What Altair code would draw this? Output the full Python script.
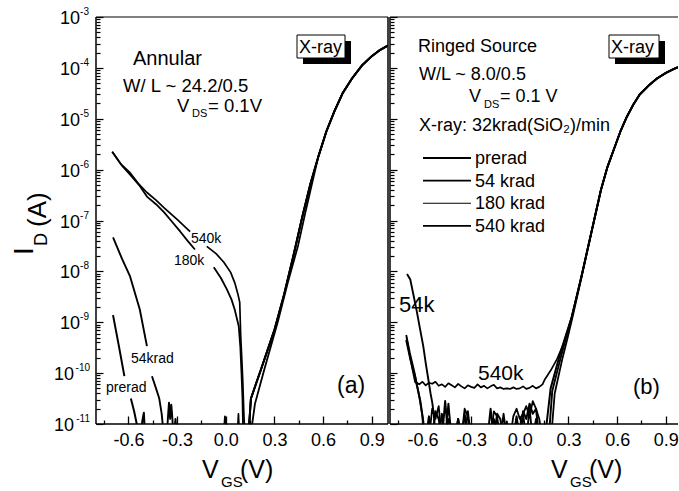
import altair as alt
import pandas as pd

FONT = "Liberation Sans"

# ----- series and styling -----
SERIES = ["prerad", "54 krad", "180 krad", "540 krad"]
LINE_W = [2.0, 1.7, 1.1, 1.8]

X_MAJOR = [-0.6, -0.3, 0.0, 0.3, 0.6, 0.9]
X_MINOR = [-0.75, -0.45, -0.15, 0.15, 0.45, 0.75]
Y_EXP = [-3, -4, -5, -6, -7, -8, -9, -10, -11]

# ----- panel (a): annular device, log10(I_D / A) vs V_GS -----
a_on_v = [0.138, 0.155, 0.22, 0.30, 0.36, 0.42, 0.47, 0.52, 0.57, 0.62, 0.67, 0.72, 0.78, 0.84, 0.90, 0.95, 1.00]
a_on_log = [-11.3, -10.5, -9.9, -9.15, -8.45, -7.65, -6.95, -6.3, -5.75, -5.25, -4.85, -4.5, -4.2, -3.95, -3.77, -3.65, -3.56]
a_on180_v = [0.15, 0.18, 0.24, 0.32, 0.38, 0.445, 0.49, 0.53, 0.57, 0.62, 0.67, 0.72, 0.78, 0.84, 0.90, 0.95, 1.00]
a_on180_log = [-11.3, -10.6, -9.9, -9.0, -8.25, -7.5, -6.85, -6.3, -5.75, -5.25, -4.85, -4.5, -4.2, -3.95, -3.77, -3.65, -3.56]

a_pre1_v = [-0.695, -0.66, -0.625]
a_pre1_log = [-8.86, -9.45, -10.06]
a_pre2_v = [-0.585, -0.565, -0.55, -0.535]
a_pre2_log = [-10.5, -10.75, -10.98, -11.4]
a_pre3_v = [-0.525, -0.515, -0.505, -0.495]
a_pre3_log = [-11.4, -10.95, -10.78, -11.4]

a_54_1_v = [-0.695, -0.64, -0.59, -0.53, -0.486]
a_54_1_log = [-7.33, -7.75, -8.1, -8.75, -9.47]
a_54_2_v = [-0.455, -0.43, -0.41, -0.395, -0.38]
a_54_2_log = [-10.06, -10.3, -10.5, -10.8, -11.3]
a_54_3_v = [-0.365, -0.355, -0.35, -0.343, -0.336, -0.33, -0.322, -0.31, -0.30, -0.29]
a_54_3_log = [-11.3, -10.8, -10.58, -10.9, -10.62, -10.85, -11.3, -10.9, -11.3, -11.3]

a_180_1_v = [-0.70, -0.64, -0.59, -0.53, -0.486, -0.43, -0.38, -0.33, -0.28, -0.235, -0.19]
a_180_1_log = [-5.65, -5.92, -6.1, -6.32, -6.53, -6.68, -6.84, -7.03, -7.22, -7.4, -7.57]
a_180_2_v = [-0.074, -0.03, 0.006, 0.035, 0.055, 0.08, 0.09, 0.097, 0.103, 0.108]
a_180_2_log = [-7.92, -8.13, -8.35, -8.55, -8.75, -9.08, -9.5, -10.0, -10.5, -11.3]
a_180_3_v = [-0.015, -0.005, 0.005]
a_180_3_log = [-11.3, -10.85, -11.3]

a_540_1_v = [-0.70, -0.65, -0.59, -0.54, -0.486, -0.43, -0.38, -0.30, -0.22]
a_540_1_log = [-5.65, -5.88, -6.06, -6.27, -6.45, -6.6, -6.75, -6.98, -7.22]
a_540_2_v = [-0.117, -0.06, -0.012, 0.03, 0.055, 0.075, 0.086, 0.092, 0.10, 0.105, 0.111, 0.118]
a_540_2_log = [-7.51, -7.65, -7.82, -8.02, -8.22, -8.45, -8.61, -9.27, -9.8, -10.18, -10.76, -11.3]
a_540_3_v = [0.07, 0.078, 0.085]
a_540_3_log = [-11.3, -10.8, -11.3]

# ----- panel (b): ringed-source device -----
b_on_v = [0.165, 0.19, 0.245, 0.27, 0.32, 0.38, 0.44, 0.50, 0.54, 0.58, 0.62, 0.66, 0.70, 0.74, 0.80, 0.845, 0.90, 0.95, 0.98]
b_on_log = [-11.0, -10.3, -9.66, -9.4, -8.9, -8.1, -7.25, -6.4, -5.95, -5.6, -5.25, -4.96, -4.72, -4.52, -4.33, -4.21, -4.1, -4.02, -3.98]
b_on54_v = [0.18, 0.20, 0.25, 0.29, 0.32, 0.38, 0.44, 0.50, 0.54, 0.58, 0.62, 0.66, 0.70, 0.74, 0.80, 0.845, 0.90, 0.95, 0.98]
b_on54_log = [-11.2, -10.35, -9.72, -9.25, -8.9, -8.1, -7.25, -6.4, -5.95, -5.6, -5.25, -4.96, -4.72, -4.52, -4.33, -4.21, -4.1, -4.02, -3.98]
b_on180_v = [0.195, 0.215, 0.26, 0.295, 0.325, 0.38, 0.44, 0.50, 0.54, 0.58, 0.62, 0.66, 0.70, 0.74, 0.80, 0.845, 0.90, 0.95, 0.98]
b_on180_log = [-11.2, -10.4, -9.75, -9.3, -8.9, -8.12, -7.25, -6.4, -5.95, -5.6, -5.25, -4.96, -4.72, -4.52, -4.33, -4.21, -4.1, -4.02, -3.98]

b_pre1_v = [-0.70, -0.675, -0.644, -0.613, -0.595, -0.585]
b_pre1_log = [-9.35, -9.72, -10.1, -10.55, -10.95, -11.3]
b_180_1_v = [-0.70, -0.678, -0.648, -0.62, -0.60, -0.588]
b_180_1_log = [-9.25, -9.6, -10.0, -10.45, -10.85, -11.3]
b_54_1_v = [-0.695, -0.675, -0.655, -0.634, -0.615, -0.595, -0.58, -0.564, -0.55, -0.54, -0.53, -0.52]
b_54_1_log = [-8.05, -8.16, -8.47, -8.8, -9.13, -9.47, -9.8, -10.12, -10.4, -10.57, -10.8, -11.3]

noise_v = [-0.58, -0.56, -0.54, -0.52, -0.50, -0.48, -0.46, -0.44, -0.42, -0.40, -0.38, -0.36,
           -0.34, -0.32, -0.30, -0.28, -0.26, -0.24, -0.22, -0.20, -0.18, -0.16, -0.14, -0.12,
           -0.10, -0.08, -0.06, -0.04, -0.02, 0.00, 0.02, 0.04, 0.06, 0.08, 0.10, 0.12, 0.14]
b_pre_noise_log = [-11.3, -10.85, -11.3, -10.75, -10.9, -11.3, -10.55, -11.3, -11.3, -11.3, -10.9, -11.3,
                   -10.8, -11.3, -11.3, -11.3, -11.3, -11.3, -11.3, -11.3, -10.7, -11.3, -10.8, -10.9,
                   -11.3, -11.3, -11.3, -11.3, -10.85, -11.3, -10.75, -10.9, -10.6, -10.8, -10.7, -11.3, -11.3]
b_180_noise_log = [-11.3, -11.3, -10.7, -10.9, -10.65, -11.3, -11.3, -10.9, -11.3, -11.3, -11.3, -11.3,
                   -10.7, -10.85, -11.3, -11.3, -11.3, -11.3, -11.3, -11.3, -11.3, -10.75, -10.85, -11.3,
                   -11.3, -10.95, -11.3, -10.85, -10.7, -10.9, -10.8, -10.65, -10.85, -10.55, -10.7, -10.9, -11.3]
b_54_noise_v = [-0.50, -0.48, -0.46, -0.44, -0.42, -0.40, -0.38, -0.36, -0.34, -0.32, -0.30,
                -0.28, -0.26, -0.24, -0.22, -0.20, -0.18, -0.16, -0.14, -0.12, -0.10, -0.08,
                -0.06, -0.04, -0.02, 0.00, 0.02, 0.04, 0.06, 0.08, 0.10, 0.12, 0.14]
b_54_noise_log = [-11.3, -10.8, -11.3, -10.6, -11.3, -11.3, -10.9, -11.3, -11.3, -10.75, -11.3,
                  -11.3, -11.3, -11.3, -11.3, -11.3, -11.3, -10.9, -11.3, -11.3, -10.8, -11.3,
                  -11.3, -11.3, -10.9, -11.3, -10.8, -11.3, -10.7, -11.3, -10.9, -11.3, -11.3]

b_540_v = [-0.698, -0.68, -0.66, -0.645,
           -0.64, -0.62, -0.60, -0.58, -0.56, -0.54, -0.52, -0.50, -0.48, -0.46, -0.44, -0.42,
           -0.40, -0.38, -0.36, -0.34, -0.32, -0.30, -0.28, -0.26, -0.24, -0.22, -0.20, -0.18,
           -0.16, -0.14, -0.12, -0.10, -0.08, -0.06, -0.04, -0.02, 0.00, 0.02, 0.04, 0.06,
           0.08, 0.10, 0.12, 0.14,
           0.155, 0.19, 0.23, 0.27, 0.32, 0.38, 0.44, 0.50, 0.54, 0.58, 0.62, 0.66, 0.70, 0.74,
           0.80, 0.845, 0.90, 0.95, 0.98]
b_540_log = [-9.3, -9.62, -9.95, -10.18,
             -10.18, -10.22, -10.17, -10.24, -10.19, -10.21, -10.17, -10.25, -10.22, -10.27, -10.20, -10.24,
             -10.28, -10.21, -10.26, -10.30, -10.24, -10.27, -10.29, -10.22, -10.28, -10.25, -10.30, -10.26,
             -10.23, -10.30, -10.28, -10.31, -10.30, -10.31, -10.28, -10.31, -10.30, -10.26, -10.31, -10.29,
             -10.25, -10.30, -10.27, -10.22,
             -10.12, -9.95, -9.72, -9.42, -8.9, -8.1, -7.25, -6.4, -5.95, -5.6, -5.25, -4.96, -4.72, -4.52,
             -4.33, -4.21, -4.1, -4.02, -3.98]

rows = []
_seg = [0]


def add(panel, series, v, logi):
    assert len(v) == len(logi)
    _seg[0] += 1
    key = f"{panel}{_seg[0]}"
    for i, (a, b) in enumerate(zip(v, logi)):
        rows.append(dict(panel=panel, series=series, key=key, idx=i, vgs=a, id=10.0 ** b))


add("a", "prerad", a_pre1_v, a_pre1_log)
add("a", "prerad", a_pre2_v, a_pre2_log)
add("a", "prerad", a_pre3_v, a_pre3_log)
add("a", "prerad", a_on_v, a_on_log)
add("a", "54 krad", a_54_1_v, a_54_1_log)
add("a", "54 krad", a_54_2_v, a_54_2_log)
add("a", "54 krad", a_54_3_v, a_54_3_log)
add("a", "54 krad", a_on_v, a_on_log)
add("a", "180 krad", a_180_1_v, a_180_1_log)
add("a", "180 krad", a_180_2_v, a_180_2_log)
add("a", "180 krad", a_180_3_v, a_180_3_log)
add("a", "180 krad", a_on180_v, a_on180_log)
add("a", "540 krad", a_540_1_v, a_540_1_log)
add("a", "540 krad", a_540_2_v, a_540_2_log)
add("a", "540 krad", a_540_3_v, a_540_3_log)
add("a", "540 krad", a_on_v, a_on_log)

add("b", "prerad", b_pre1_v, b_pre1_log)
add("b", "prerad", noise_v, b_pre_noise_log)
add("b", "prerad", b_on_v, b_on_log)
add("b", "54 krad", b_54_1_v, b_54_1_log)
add("b", "54 krad", b_54_noise_v, b_54_noise_log)
add("b", "54 krad", b_on54_v, b_on54_log)
add("b", "180 krad", b_180_1_v, b_180_1_log)
add("b", "180 krad", noise_v, b_180_noise_log)
add("b", "180 krad", b_on180_v, b_on180_log)
add("b", "540 krad", b_540_v, b_540_log)

df = pd.DataFrame(rows)

Y_SCALE = alt.Scale(type="log", domain=[1e-11, 1e-3], nice=False)
Y_MINOR = [m * 10.0 ** e for e in range(-11, -3) for m in range(2, 10)]
ONE = pd.DataFrame({"k": [0]})
H = 407


def x_axis(values, size, labels):
    return alt.Axis(orient="bottom", values=values, tickSize=size, offset=-size, domain=False,
                    grid=False, title=None, labels=labels, tickColor="black", tickWidth=1.3,
                    labelExpr="(datum.value < 0 ? '-' : '') + format(abs(datum.value), '.1f')",
                    labelFont=FONT, labelFontSize=18, labelColor="black", labelPadding=7,
                    labelFlush=False, labelOverlap=False)


def y_axis(values, size):
    return alt.Axis(orient="left", values=values, tickSize=size, offset=-size, domain=False,
                    grid=False, title=None, labels=False, tickColor="black", tickWidth=1.2)


def txt(text, x, y, size, align="left", baseline="alphabetic", angle=None):
    kw = dict(text=text, font=FONT, fontSize=size, align=align, baseline=baseline, color="black")
    if angle is not None:
        kw["angle"] = angle
    return alt.Chart(ONE).mark_text(**kw).encode(x=alt.value(x), y=alt.value(y))


def rule(x, x2, y, y2, w=1.5):
    return alt.Chart(ONE).mark_rule(color="black", strokeWidth=w).encode(
        x=alt.value(x), x2=alt.value(x2), y=alt.value(y), y2=alt.value(y2))


def xray_box(x0, y0, w, h):
    shadow = alt.Chart(ONE).mark_rect(color="black").encode(
        x=alt.value(x0 + 6), x2=alt.value(x0 + w + 6), y=alt.value(y0 + 6), y2=alt.value(y0 + h + 6))
    box = alt.Chart(ONE).mark_rect(fill="white", stroke="black", strokeWidth=1).encode(
        x=alt.value(x0), x2=alt.value(x0 + w), y=alt.value(y0), y2=alt.value(y0 + h))
    return [shadow, box, txt("X-ray", x0 + 2, y0 + h / 2 + 1, 18, baseline="middle")]


def curves(panel, dom):
    pdf = df[df.panel == panel]
    xs = alt.Scale(domain=dom, nice=False, zero=False)
    lines = alt.Chart(pdf).mark_line(color="black", clip=True, strokeJoin="round").encode(
        x=alt.X("vgs:Q", scale=xs, axis=x_axis(X_MAJOR, 8, True)),
        y=alt.Y("id:Q", scale=Y_SCALE, axis=y_axis([10.0 ** e for e in Y_EXP], 7)),
        detail="key:N",
        order="idx:Q",
        strokeWidth=alt.StrokeWidth("series:N", scale=alt.Scale(domain=SERIES, range=LINE_W), legend=None),
    )
    minor = alt.Chart(pdf).mark_point(opacity=0, clip=True).encode(
        x=alt.X("vgs:Q", scale=xs, axis=x_axis(X_MINOR, 4, False)),
        y=alt.Y("id:Q", scale=Y_SCALE, axis=y_axis(Y_MINOR, 4)),
    )
    return [lines, minor]


def x_title(x0):
    return [txt("V", x0, H + 54, 25), txt("GS", x0 + 19, H + 63, 15), txt("(V)", x0 + 38, H + 54, 25)]


# tick labels 10^n for the shared current axis
short = pd.DataFrame({"id": [10.0 ** e for e in Y_EXP if e > -10],
                      "sup": [f"-{-e}" for e in Y_EXP if e > -10]})
longer = pd.DataFrame({"id": [10.0 ** e for e in Y_EXP if e <= -10],
                       "sup": [f"-{-e}" for e in Y_EXP if e <= -10]})


def ylabels(d, x10, xsup):
    ten = alt.Chart(d).mark_text(text="10", font=FONT, fontSize=18, align="right", baseline="middle",
                                 dy=2, color="black").encode(
        y=alt.Y("id:Q", scale=Y_SCALE, axis=None), x=alt.value(x10))
    sup = alt.Chart(d).mark_text(font=FONT, fontSize=10, align="right", baseline="middle",
                                 dy=-5, color="black").encode(
        y=alt.Y("id:Q", scale=Y_SCALE, axis=None), x=alt.value(xsup), text="sup:N")
    return [ten, sup]


WA = 292
left_layers = (
    [alt.Chart(ONE).mark_rect(opacity=0).encode(
        x=alt.value(-96), x2=alt.value(0), y=alt.value(-17), y2=alt.value(H + 67))]
    + curves("a", [-0.8, 1.0])
    + ylabels(short, -16, -7) + ylabels(longer, -22, -6)
    + [rule(0, WA, 0, 0, 1), rule(0, WA, H, H), rule(0, 0, 0, H), rule(WA, WA, 0, H)]
    + [txt("I", -63, 238, 28, angle=270), txt("D", -49, 229, 18, angle=270),
       txt("(A)", -50, 210, 26, angle=270)]
    + [txt("Annular", 37, 48, 20), txt("W/ L ~ 24.2/0.5", 27, 75, 18.5),
       txt("V", 81, 94.5, 18.5), txt("DS", 96, 100, 11), txt("= 0.1V", 112, 94.5, 18.5)]
    + xray_box(201, 18, 48, 23)
    + [txt("540k", 95, 226, 14), txt("180k", 78, 248, 14), txt("54krad", 35, 346, 14),
       txt("prerad", 10, 375, 14), txt("(a)", 241, 376, 23)]
    + x_title(106)
)
left = alt.layer(*left_layers).resolve_axis(x="independent", y="independent").properties(width=WA, height=H)

WB = 288
legend_layers = []
for i, (s, w) in enumerate(zip(SERIES, LINE_W)):
    yy = 141 + 22.6 * i
    legend_layers.append(rule(33, 81, yy, yy, w))
    legend_layers.append(txt(s, 85, yy + 1, 18, baseline="middle"))

right_layers = (
    curves("b", [-0.8, 0.975])
    + [rule(0, WB, 0, 0, 1), rule(0, WB, H, H), rule(0, 0, 0, H)]
    + [txt("Ringed Source", 28, 35, 18), txt("W/L ~ 8.0/0.5", 29, 63, 18),
       txt("V", 79, 85, 18), txt("DS", 94, 91, 11), txt("= 0.1 V", 110, 85, 18),
       txt("X-ray: 32krad(SiO\u2082)/min", 29, 114, 18)]
    + legend_layers
    + xray_box(219, 18, 50, 23)
    + [txt("54k", 9, 295, 22), txt("540k", 88, 363, 21), txt("(b)", 243, 377, 22)]
    + x_title(161)
)
right = alt.layer(*right_layers).resolve_axis(x="independent", y="independent").properties(width=WB, height=H)

chart = (
    alt.hconcat(left, right, spacing=0)
    .properties(padding=0, background="white")
    .configure_view(stroke=None)
)

chart.save("out.html", embed_options={"renderer": "svg", "actions": False})
